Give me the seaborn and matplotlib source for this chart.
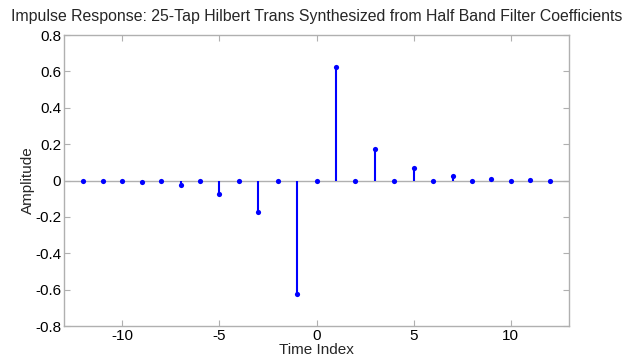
import numpy as np
import pandas as pd
import matplotlib
matplotlib.use("Agg")
import matplotlib.pyplot as plt
import seaborn as sns

# Data
time_index = list(range(-12, 13))
amplitude = [0.0, -0.003, 0.0, -0.010, 0.0, -0.025, 0.0, -0.071, 0.0, -0.172, 0.0, -0.625,
             0.0,
             0.625, 0.0, 0.172, 0.0, 0.071, 0.0, 0.026, 0.0, 0.011, 0.0, 0.003, 0.0]
x_ticks = [-10, -5, 0, 5, 10]
y_ticks = [-0.8, -0.6, -0.4, -0.2, 0, 0.2, 0.4, 0.6, 0.8]
y_ticklabels = ["-0.8", "-0.6", "-0.4", "-0.2", "0", "0.2", "0.4", "0.6", "0.8"]

df = pd.DataFrame({"Time Index": time_index, "Amplitude": amplitude})

sns.set_theme(style="white")
plt.rcParams['font.family'] = ['Liberation Sans', 'DejaVu Sans']
plt.rcParams['axes.unicode_minus'] = False

fig = plt.figure(figsize=(6.22, 3.58), dpi=100)
ax = fig.add_axes([0.103, 0.089, 0.812, 0.813])

ax.axhline(0, color="#b0b0b0", lw=1.0, zorder=1)
ax.vlines(df["Time Index"], 0, df["Amplitude"], color="#0000ff", lw=1.5, zorder=2)
sns.scatterplot(data=df, x="Time Index", y="Amplitude", ax=ax, color="#0000ff",
                s=14, edgecolor="#0000ff", linewidth=0, zorder=3)

ax.set_xlim(-13, 13)
ax.set_ylim(-0.8, 0.8)
ax.set_xticks(x_ticks)
ax.set_xticklabels([str(v) for v in x_ticks])
ax.set_yticks(y_ticks)
ax.set_yticklabels(y_ticklabels)
ax.tick_params(direction="in", length=4, width=0.8, color="#b0b0b0",
               top=True, right=True, bottom=True, left=True,
               labelsize=11, labelcolor="black", pad=2)
for s in ax.spines.values():
    s.set_color("#b0b0b0")
    s.set_linewidth(1.0)

ax.set_xlabel("Time Index", fontsize=11, labelpad=0)
ax.set_ylabel("Amplitude", fontsize=11, labelpad=0)
ax.set_title("Impulse Response: 25-Tap Hilbert Trans Synthesized from Half Band Filter Coefficients",
             fontsize=11.4, pad=10)

fig.savefig("out.png", dpi=100, facecolor="white")
